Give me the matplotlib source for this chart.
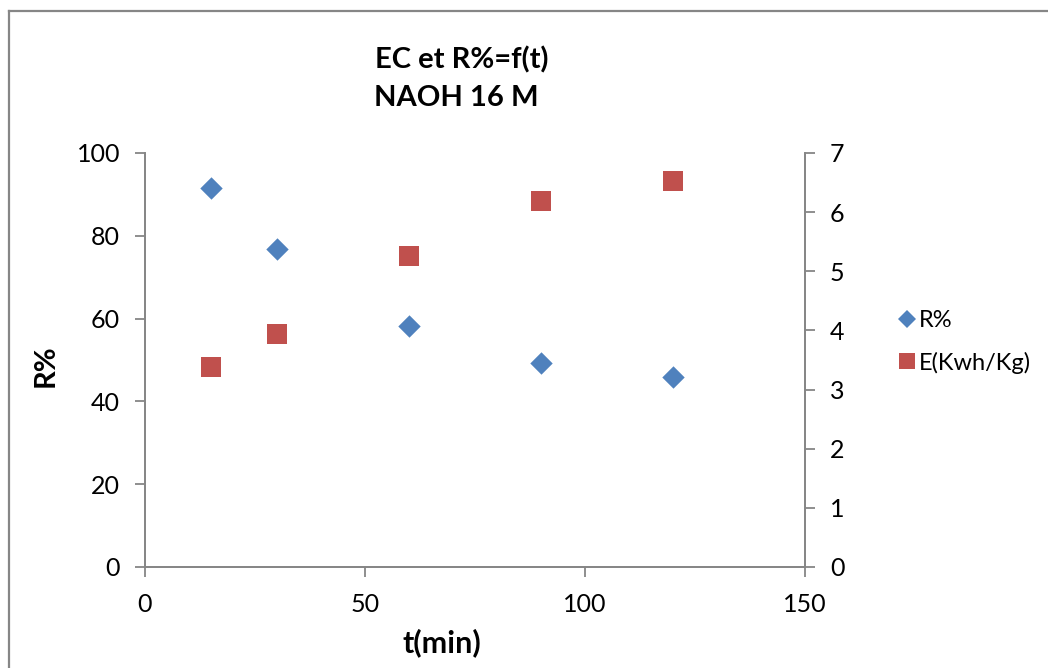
import matplotlib
matplotlib.use("Agg")
import matplotlib.pyplot as plt
from matplotlib.lines import Line2D

# données
t_min = [15, 30, 60, 90, 120]
r_pct = [91.5, 76.7, 58.2, 49.3, 45.8]
e_kwh = [3.38, 3.94, 5.26, 6.19, 6.53]

x_ticks = [0, 50, 100, 150]
r_ticks = [0, 20, 40, 60, 80, 100]
e_ticks = [0, 1, 2, 3, 4, 5, 6, 7]

BLUE = '#4F81BD'
RED = '#C0504D'
GRAY = '#868686'
FONT = ['Lato', 'DejaVu Sans']

plt.rcParams['font.family'] = FONT

W, H = 1048, 668
fig = plt.figure(figsize=(W / 100, H / 100), dpi=100)

# cadre extérieur du graphique (style Excel)
fig.add_artist(Line2D([8.5 / W, 8.5 / W], [0, 1 - 10.5 / H], transform=fig.transFigure,
                      color=GRAY, lw=1.6))
fig.add_artist(Line2D([8.5 / W, 1], [1 - 10.5 / H, 1 - 10.5 / H], transform=fig.transFigure,
                      color=GRAY, lw=1.6))

left, right, top, bottom = 145, 805, 153, 567
ax = fig.add_axes([left / W, 1 - bottom / H, (right - left) / W, (bottom - top) / H])
ax2 = ax.twinx()

ax.scatter(t_min, r_pct, marker='D', s=130, color=BLUE, zorder=3, linewidths=0)
ax2.scatter(t_min, e_kwh, marker='s', s=210, color=RED, zorder=3, linewidths=0)

ax.set_xlim(0, 150)
ax.set_ylim(0, 100)
ax2.set_ylim(0, 7)
ax.set_xticks(x_ticks)
ax.set_yticks(r_ticks)
ax2.set_yticks(e_ticks)

for a in (ax, ax2):
    a.spines['top'].set_visible(False)
    for s in ('left', 'right', 'bottom'):
        a.spines[s].set_color(GRAY)
        a.spines[s].set_linewidth(1.3)
    a.tick_params(axis='both', colors=GRAY, labelcolor='black', labelsize=18,
                  length=7, width=1.3, pad=11)
ax.tick_params(axis='x', pad=12)

# titres des axes
fig.text(442 / W, 1 - 643 / H, 't(min)', ha='center', va='center',
         fontsize=22, fontweight='bold')
fig.text(46 / W, 1 - 366 / H, 'R%', ha='center', va='center', rotation=90,
         fontsize=21, fontweight='bold')

# titre
fig.text(462 / W, 1 - 60 / H, 'EC et R%=f(t)', ha='center', va='center',
         fontsize=21, fontweight='bold')
fig.text(456 / W, 1 - 98 / H, 'NAOH 16 M', ha='center', va='center',
         fontsize=21, fontweight='bold')

handles = [
    Line2D([], [], marker='D', ls='', color=BLUE, markersize=9, markeredgewidth=0),
    Line2D([], [], marker='s', ls='', color=RED, markersize=12, markeredgewidth=0),
]
fig.legend(handles, ['R%', 'E(Kwh/Kg)'], loc='center left',
           bbox_to_anchor=(879 / W, 1 - 342 / H), frameon=False, fontsize=17,
           handlelength=0.6, handletextpad=0.2, labelspacing=0.85)

fig.savefig('out.png', dpi=100)
